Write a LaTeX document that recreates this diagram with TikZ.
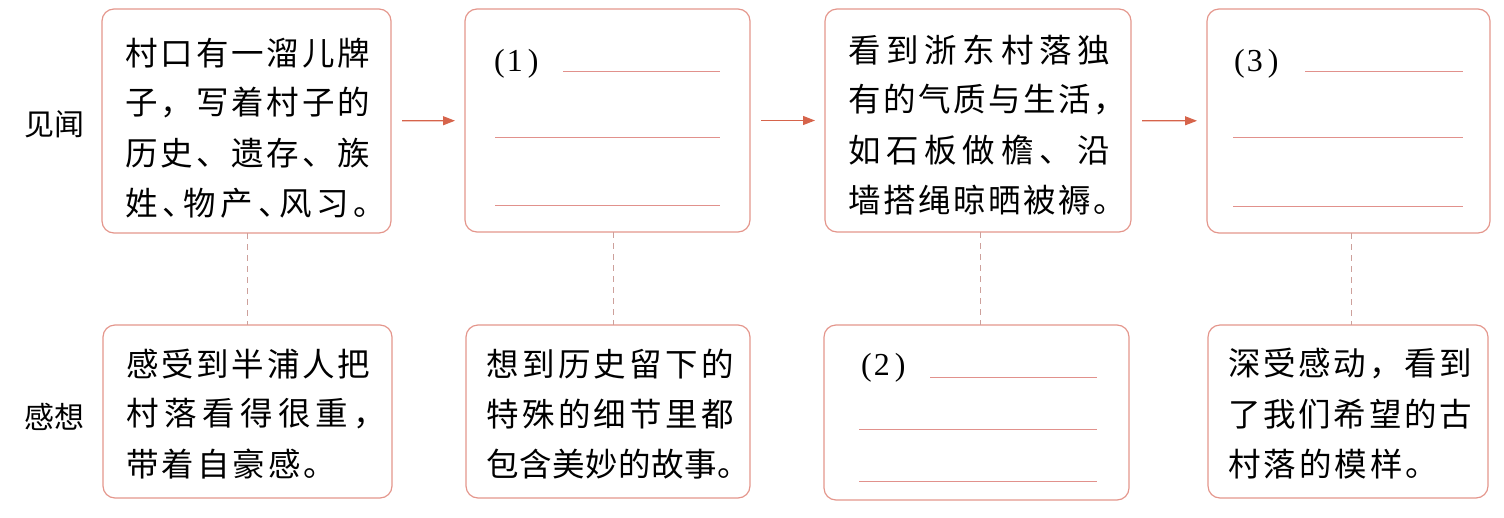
\documentclass[tikz,border=0pt]{standalone}
\usepackage{fontspec}
\setmainfont{Liberation Serif}
\newfontfamily\cjk{Noto Sans CJK SC}
\usetikzlibrary{arrows.meta}
\definecolor{boxc}{RGB}{228,150,140}
\definecolor{arrc}{RGB}{214,100,75}
\definecolor{dashc}{RGB}{205,160,155}
\definecolor{linec}{RGB}{225,145,140}
\newskip\gapamt
\gapamt=3pt plus 30pt minus 3pt
\def\spA#1{\ifx#1\relax\else#1\hskip\gapamt\relax\expandafter\spA\fi}
\newcommand\jline[2]{\hbox to #1{\spA#2\relax\unskip}}
\newcommand\nline[1]{\hbox{\spA#1\relax\unskip}}
\newcommand\hc{\makebox[0.5em][l]{，}}
\newcommand\hd{\makebox[0.5em][l]{、}}
\newcommand\hp{\makebox[0.5em][l]{。}}
\tikzset{
  box/.style={draw=boxc, line width=1.2pt, rounded corners=12pt, inner sep=0pt, outer sep=0pt},
  tl/.style={anchor=west, inner sep=0pt, font=\cjk\fontsize{32.5pt}{38pt}\selectfont},
  lab/.style={inner sep=0pt, font=\cjk\fontsize{30pt}{34pt}\selectfont},
  num/.style={anchor=base west, inner sep=0pt, font=\fontsize{32pt}{38pt}\selectfont},
  arr/.style={draw=arrc, line width=1.1pt, -{Triangle[length=12pt,width=9pt]}, shorten <=11pt, shorten >=10pt},
  dl/.style={draw=dashc, line width=0.8pt, dash pattern=on 6pt off 5pt},
  blank/.style={draw=linec, line width=1pt}
}
\begin{document}
\begin{tikzpicture}[x=1pt,y=-1pt]
\useasboundingbox (0,0) rectangle (1504,517);
% boxes
\node[box, minimum width=289pt, minimum height=224pt] (T1) at (246.5,121) {};
\node[box, minimum width=285pt, minimum height=223pt] (T2) at (607.5,120.5) {};
\node[box, minimum width=306pt, minimum height=223pt] (T3) at (978,120.5) {};
\node[box, minimum width=283pt, minimum height=224pt] (T4) at (1348.5,121) {};
\node[box, minimum width=289pt, minimum height=173pt] (B1) at (247.5,411.5) {};
\node[box, minimum width=284pt, minimum height=173pt] (B2) at (608,411.5) {};
\node[box, minimum width=305pt, minimum height=175pt] (B3) at (976.5,412.5) {};
\node[box, minimum width=280pt, minimum height=173pt] (B4) at (1348,411.5) {};
% row labels
\node[lab] (L1) at (54,124) {见闻};
\node[lab] (L2) at (54,417) {感想};
% arrows
\draw[arr] (T1) -- (T2);
\draw[arr] (T2) -- (T3);
\draw[arr] (T3) -- (T4);
% dashed links
\coordinate (d1) at (247,0);
\coordinate (d2) at (613,0);
\coordinate (d3) at (980,0);
\coordinate (d4) at (1351,0);
\draw[dl] (T1.south -| d1) -- (B1.north -| d1);
\draw[dl] (T2.south -| d2) -- (B2.north -| d2);
\draw[dl] (T3.south -| d3) -- (B3.north -| d3);
\draw[dl] (T4.south -| d4) -- (B4.north -| d4);
% T1 text
\node[tl] (t1a) at (125,53) {\jline{245pt}{村口有一溜儿牌}};
\node[tl] (t1b) at (125,103) {\jline{245pt}{子，写着村子的}};
\node[tl] (t1c) at (125,153) {\jline{245pt}{历史、遗存、族}};
\node[tl] (t1d) at (125,203) {\jline{245pt}{姓\hd 物产\hd 风习\hp}};
% T3 text
\node[tl] (t3a) at (848,50) {\jline{262pt}{看到浙东村落独}};
\node[tl] (t3b) at (848,100) {\jline{262pt}{有的气质与生活\hc}};
\node[tl] (t3c) at (848,150) {\jline{262pt}{如石板做檐、沿}};
\node[tl] (t3d) at (848,200) {\jline{262pt}{墙搭绳晾晒被褥\hp}};
% B1 text
\node[tl] (b1a) at (126,364) {\jline{244pt}{感受到半浦人把}};
\node[tl] (b1b) at (126,414) {\jline{244pt}{村落看得很重\hc}};
\node[tl] (b1c) at (126,464) {\nline{带着自豪感。}};
% B2 text
\node[tl] (b2a) at (486,364) {\jline{248pt}{想到历史留下的}};
\node[tl] (b2b) at (486,414) {\jline{248pt}{特殊的细节里都}};
\node[tl] (b2c) at (486,464) {\jline{248pt}{包含美妙的故事\hp}};
% B4 text
\node[tl] (b4a) at (1228,364) {\jline{244pt}{深受感动，看到}};
\node[tl] (b4b) at (1228,414) {\jline{244pt}{了我们希望的古}};
\node[tl] (b4c) at (1228,464) {\nline{村落的模样。}};
% blanks (1), (2), (3)
\node[num] (n1) at (494,71) {(\kern2pt 1\kern5pt)};
\draw[blank] (563,71) -- (720,71);
\draw[blank] (495,137) -- (720,137);
\draw[blank] (495,205) -- (720,205);
\node[num] (n3) at (1234,71) {(\kern2pt 3\kern5pt)};
\draw[blank] (1305,71) -- (1463,71);
\draw[blank] (1233,137) -- (1463,137);
\draw[blank] (1233,206) -- (1463,206);
\node[num] (n2) at (861,375) {(\kern2pt 2\kern5pt)};
\draw[blank] (930,377) -- (1097,377);
\draw[blank] (859,429) -- (1097,429);
\draw[blank] (859,481) -- (1097,481);
\end{tikzpicture}
\end{document}
